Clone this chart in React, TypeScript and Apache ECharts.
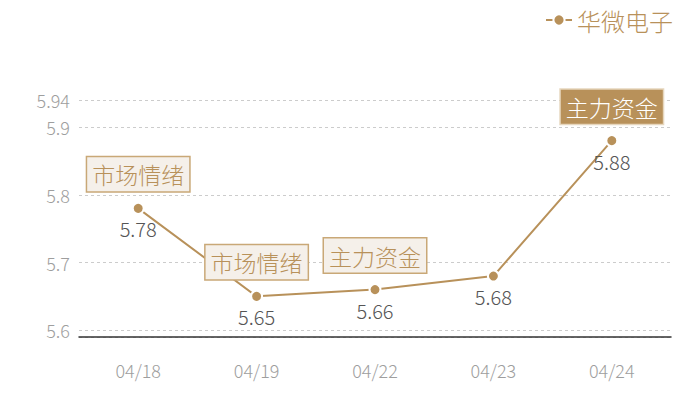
import { useEffect, useRef } from 'react'
import * as echarts from 'echarts'

const categories = ['04/18', '04/19', '04/22', '04/23', '04/24']
const prices = [5.78, 5.65, 5.66, 5.68, 5.88]
const seriesName = '华微电子'

// annotation per category ('' = none), and whether it is the highlighted one
const notes = ['市场情绪', '市场情绪', '主力资金', '', '主力资金']
const noteFilled = [false, false, false, false, true]

const GOLD = '#b8915a'
const FONT = '"Noto Sans CJK SC", "Noto Sans", sans-serif'
const WEIGHT = 300

export default function App() {
  const elRef = useRef<HTMLDivElement | null>(null)

  useEffect(() => {
    if (!elRef.current) return
    const chart = echarts.init(elRef.current, undefined, { renderer: 'svg' })

    const markData = notes
      .map((text, i) => ({ text, i }))
      .filter((n) => n.text)
      .map(({ text, i }) => ({
        coord: [categories[i], prices[i]],
        value: text,
        symbol: 'circle',
        symbolSize: 0,
        label: {
          show: true,
          position: 'top',
          distance: 17,
          formatter: text,
          fontFamily: FONT,
          fontWeight: WEIGHT,
          fontSize: 23,
          lineHeight: 28,
          padding: [3, 5, 3, 5],
          color: noteFilled[i] ? '#fff' : GOLD,
          backgroundColor: noteFilled[i] ? GOLD : '#f5f0ea',
          borderColor: noteFilled[i] ? '#e6d6bd' : '#c9a877',
          borderWidth: 1.5,
        },
      }))

    chart.setOption({
      animation: false,
      textStyle: { fontFamily: FONT, fontWeight: WEIGHT },
      grid: { left: 79, right: 29, top: 100, bottom: 63 },
      legend: {
        right: 22,
        top: 3,
        itemWidth: 26,
        itemHeight: 14,
        itemGap: 8,
        textStyle: { color: GOLD, fontSize: 24, fontFamily: FONT, fontWeight: WEIGHT },
        data: [seriesName],
      },
      xAxis: {
        type: 'category',
        data: categories,
        axisLine: { lineStyle: { color: '#333', width: 1.5 } },
        axisTick: { show: false },
        axisLabel: { color: '#9e9e9e', fontSize: 18, margin: 24, fontFamily: FONT, fontWeight: WEIGHT },
      },
      yAxis: {
        type: 'value',
        min: 5.59,
        max: 5.94,
        splitNumber: 4,
        axisLine: { show: false },
        axisTick: { show: false },
        axisLabel: {
          color: '#9e9e9e',
          fontSize: 18,
          margin: 9,
          fontFamily: FONT,
          fontWeight: WEIGHT,
          showMinLabel: false,
          showMaxLabel: true,
        },
        splitLine: { lineStyle: { color: '#ccc', type: [3, 3] } },
      },
      series: [
        {
          name: seriesName,
          type: 'line',
          data: prices,
          symbol: 'circle',
          symbolSize: 11,
          lineStyle: { color: GOLD, width: 2 },
          itemStyle: { color: GOLD, borderColor: '#fff', borderWidth: 2 },
          label: {
            show: true,
            position: 'bottom',
            distance: 4,
            color: '#555',
            fontSize: 20,
            fontFamily: FONT,
            fontWeight: WEIGHT,
          },
          markPoint: {
            data: markData,
          },
        },
      ],
    } as echarts.EChartsOption)

    return () => {
      chart.dispose()
    }
  }, [])

  return <div ref={elRef} style={{ width: 700, height: 400, margin: -8 }} />
}
